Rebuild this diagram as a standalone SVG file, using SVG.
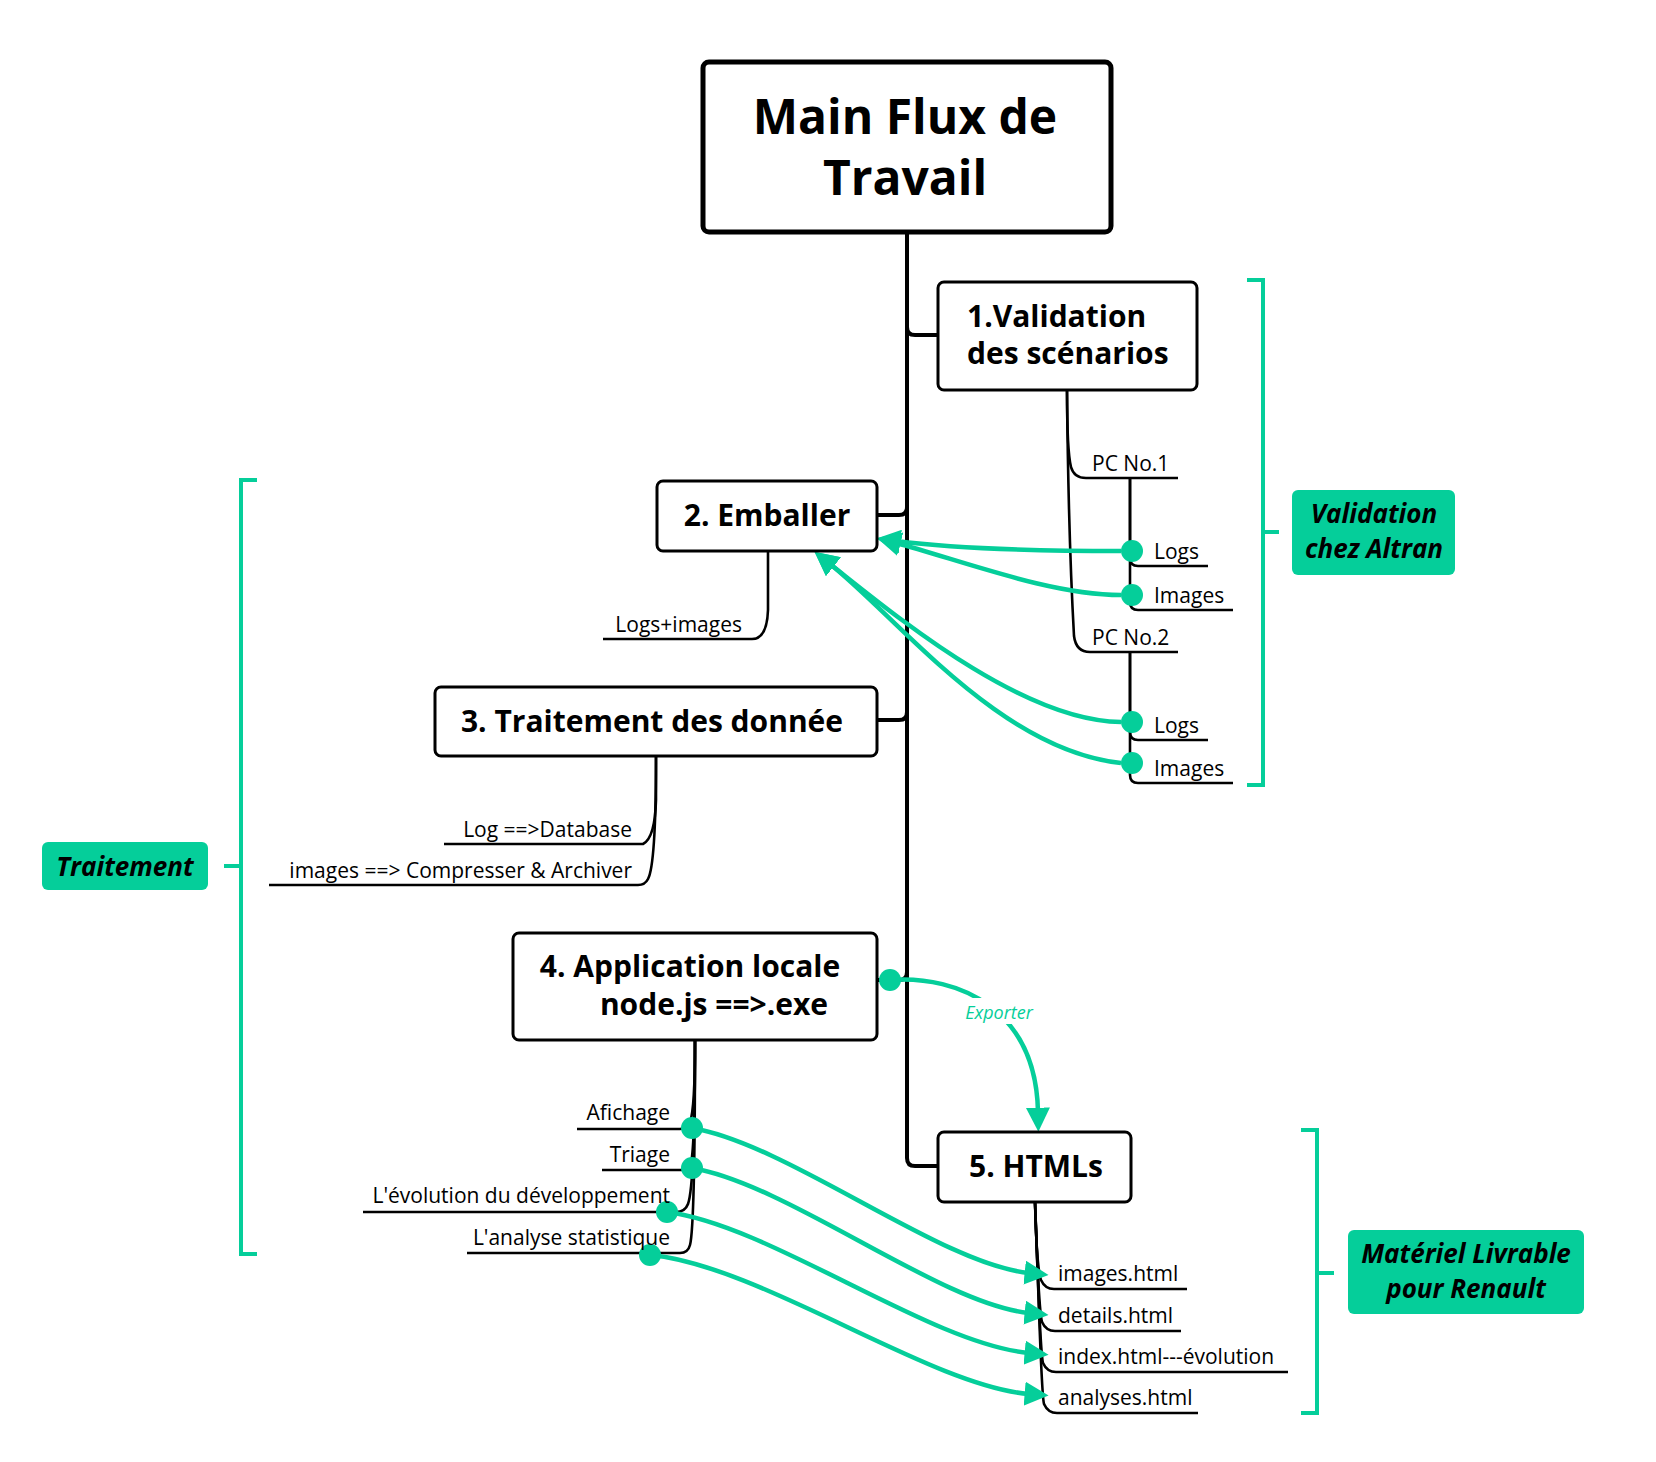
<svg xmlns="http://www.w3.org/2000/svg" width="1656" height="1462" viewBox="0 0 1656 1462">
<style>
.bg{fill:#fff}
.root{fill:#fff;stroke:#000;stroke-width:5}
.box{fill:#fff;stroke:#000;stroke-width:3}
.tt{font-family:"Open Sans","Noto Sans",sans-serif;font-weight:bold;fill:#000}
.lbl{font-family:"Open Sans","Noto Sans",sans-serif;font-size:21px;fill:#000}
.sum{fill:#05CE9A}
.sumt{font-family:"Open Sans","Noto Sans",sans-serif;font-weight:bold;font-style:italic;font-size:26px;fill:#000;text-anchor:middle}
.br{fill:none;stroke:#05CE9A;stroke-width:4}
.ln{fill:none;stroke:#000;stroke-width:2.6}
.trunk{fill:none;stroke:#000;stroke-width:4}
.rel{fill:none;stroke:#05CE9A;stroke-width:4.5}
.dot{fill:#05CE9A}
</style>
<defs>
<marker id="ah" markerUnits="userSpaceOnUse" markerWidth="24" markerHeight="24" viewBox="0 0 22 22" refX="4" refY="11" orient="auto">
<path d="M0,0 L22,11 L0,22 z" fill="#05CE9A"/>
</marker>
</defs>
<rect class="bg" x="0" y="0" width="1656" height="1462"/>

<g id="connectors">
<path class="trunk" d="M907,233 V1158 Q907,1166 915,1166 H938"/>
<path class="trunk" d="M907,327 Q907,335 915,335 H938"/>
<path class="trunk" d="M877,515 H899 Q907,515 907,507"/>
<path class="trunk" d="M877,720 H899 Q907,720 907,712"/>
<path class="trunk" d="M877,980 H899 Q907,980 907,972"/>
<!-- node1 children -->
<path class="ln" d="M1067,390 C1067,430 1068,455 1071,467 Q1074,478 1086,478 H1178"/>
<path class="ln" d="M1067,390 C1068,500 1072,600 1074,636 Q1076,652 1090,652 H1178"/>
<path class="ln" d="M1130,478 V558 Q1130,566 1138,566 H1208"/>
<path class="ln" d="M1130,478 V602 Q1130,610 1138,610 H1233"/>
<path class="ln" d="M1130,652 V732 Q1130,740 1138,740 H1208"/>
<path class="ln" d="M1130,652 V775 Q1130,783 1138,783 H1233"/>
<!-- node2 child -->
<path class="ln" d="M768,551 V610 Q767,639 752,639 H603"/>
<!-- node3 children -->
<path class="ln" d="M656,756 V800 Q655,838 643,844 H444"/>
<path class="ln" d="M656,756 C656,820 654,868 648,879 Q645,885 638,885 H269"/>
<!-- node4 children -->
<path class="ln" d="M695,1040 C695,1080 694,1112 690,1122 Q687,1129 680,1129 H577"/>
<path class="ln" d="M695,1040 C695,1100 694,1150 691,1163 Q689,1170 682,1170 H602"/>
<path class="ln" d="M695,1040 C695,1120 693,1190 688,1204 Q685,1212 676,1212 H363"/>
<path class="ln" d="M695,1040 C695,1150 694,1230 690,1245 Q688,1253 680,1253 H467"/>
<!-- node5 children -->
<path class="ln" d="M1035,1202 C1036,1240 1038,1272 1041,1280 Q1045,1289 1054,1289 H1187"/>
<path class="ln" d="M1035,1202 C1037,1260 1039,1312 1042,1322 Q1046,1331 1055,1331 H1181"/>
<path class="ln" d="M1035,1202 C1038,1280 1040,1352 1043,1363 Q1047,1372 1056,1372 H1288"/>
<path class="ln" d="M1035,1202 C1039,1300 1041,1394 1044,1404 Q1048,1413 1057,1413 H1198"/>

<!-- relationship curves -->
<path class="rel" d="M1121,551 C1020,551 950,548 896,541" marker-end="url(#ah)"/>
<path class="rel" d="M1121,595 C1050,595 960,560 896,543" marker-end="url(#ah)"/>
<path class="rel" d="M1121,722 C1020,721 890,611 830,564" marker-end="url(#ah)"/>
<path class="rel" d="M1121,763 C1000,750 900,620 830,564" marker-end="url(#ah)"/>
<path class="rel" d="M890,980 C960,975 1036,1010 1038,1112" marker-end="url(#ah)"/>
<rect x="958" y="998" width="84" height="26" fill="#fff"/>
<text x="999" y="1019" font-family="'Open Sans','Noto Sans',sans-serif" font-style="italic" font-size="18" fill="#05CE9A" text-anchor="middle">Exporter</text>
<path class="rel" d="M692,1128 C790,1145 940,1264 1029,1273" marker-end="url(#ah)"/>
<path class="rel" d="M692,1168 C790,1185 940,1304 1029,1313" marker-end="url(#ah)"/>
<path class="rel" d="M667,1212 C770,1225 930,1344 1029,1353" marker-end="url(#ah)"/>
<path class="rel" d="M650,1255 C760,1265 930,1386 1029,1394" marker-end="url(#ah)"/>
<circle class="dot" cx="1132" cy="551" r="11"/>
<circle class="dot" cx="1132" cy="595" r="11"/>
<circle class="dot" cx="1132" cy="722" r="11"/>
<circle class="dot" cx="1132" cy="763" r="11"/>
<circle class="dot" cx="890" cy="980" r="11"/>
<circle class="dot" cx="692" cy="1128" r="11"/>
<circle class="dot" cx="692" cy="1168" r="11"/>
<circle class="dot" cx="667" cy="1212" r="11"/>
<circle class="dot" cx="650" cy="1255" r="11"/>
</g>

<g id="root">
<rect class="root" x="703" y="62" width="408" height="170" rx="6"/>
<text class="tt" font-size="48" text-anchor="middle" x="905" y="134">Main Flux de</text>
<text class="tt" font-size="48" text-anchor="middle" x="905" y="195">Travail</text>
</g>

<g id="node1">
<rect class="box" x="938" y="282" width="259" height="108" rx="6"/>
<text class="tt" font-size="30" x="967" y="327">1.Validation</text>
<text class="tt" font-size="30" x="967" y="364">des scénarios</text>
</g>
<g id="pc1">
<text class="lbl" x="1092" y="471">PC No.1</text>
<text class="lbl" x="1154" y="559">Logs</text>
<text class="lbl" x="1154" y="603">Images</text>
</g>
<g id="pc2">
<text class="lbl" x="1092" y="645">PC No.2</text>
<text class="lbl" x="1154" y="733">Logs</text>
<text class="lbl" x="1154" y="776">Images</text>
</g>

<g id="node2">
<rect class="box" x="657" y="481" width="220" height="70" rx="6"/>
<text class="tt" font-size="30" text-anchor="middle" x="767" y="526">2. Emballer</text>
<text class="lbl" text-anchor="end" x="742" y="632">Logs+images</text>
</g>

<g id="node3">
<rect class="box" x="435" y="687" width="442" height="69" rx="6"/>
<text class="tt" font-size="30" text-anchor="middle" x="652" y="732">3. Traitement des donnée</text>
<text class="lbl" text-anchor="end" x="632" y="837">Log ==&gt;Database</text>
<text class="lbl" text-anchor="end" x="632" y="878">images ==&gt; Compresser &amp; Archiver</text>
</g>

<g id="node4">
<rect class="box" x="513" y="933" width="364" height="107" rx="6"/>
<text class="tt" font-size="30" text-anchor="middle" x="690" y="977">4. Application locale</text>
<text class="tt" font-size="30" text-anchor="middle" x="714" y="1015">node.js ==&gt;.exe</text>
<text class="lbl" text-anchor="end" x="670" y="1120">Afichage</text>
<text class="lbl" text-anchor="end" x="670" y="1162">Triage</text>
<text class="lbl" text-anchor="end" x="670" y="1203">L'évolution du développement</text>
<text class="lbl" text-anchor="end" x="670" y="1245">L'analyse statistique</text>
</g>

<g id="node5">
<rect class="box" x="938" y="1132" width="193" height="70" rx="6"/>
<text class="tt" font-size="30" text-anchor="middle" x="1036" y="1177">5. HTMLs</text>
<text class="lbl" x="1058" y="1281">images.html</text>
<text class="lbl" x="1058" y="1323">details.html</text>
<text class="lbl" x="1058" y="1364">index.html---évolution</text>
<text class="lbl" x="1058" y="1405">analyses.html</text>
</g>

<g id="summary-validation">
<path class="br" d="M1247,280 H1263 V785 H1247 M1263,532 H1279"/>
<rect class="sum" x="1292" y="490" width="163" height="85" rx="6"/>
<text class="sumt" x="1374" y="523">Validation</text>
<text class="sumt" x="1374" y="558">chez Altran</text>
</g>

<g id="summary-traitement">
<path class="br" d="M257,480 H241 V1254 H257 M241,866 H224"/>
<rect class="sum" x="42" y="842" width="166" height="48" rx="6"/>
<text class="sumt" x="125" y="876">Traitement</text>
</g>

<g id="summary-livrable">
<path class="br" d="M1301,1130 H1317 V1413 H1301 M1317,1273 H1334"/>
<rect class="sum" x="1348" y="1230" width="236" height="84" rx="6"/>
<text class="sumt" x="1466" y="1263">Matériel Livrable</text>
<text class="sumt" x="1466" y="1298">pour Renault</text>
</g>
</svg>
